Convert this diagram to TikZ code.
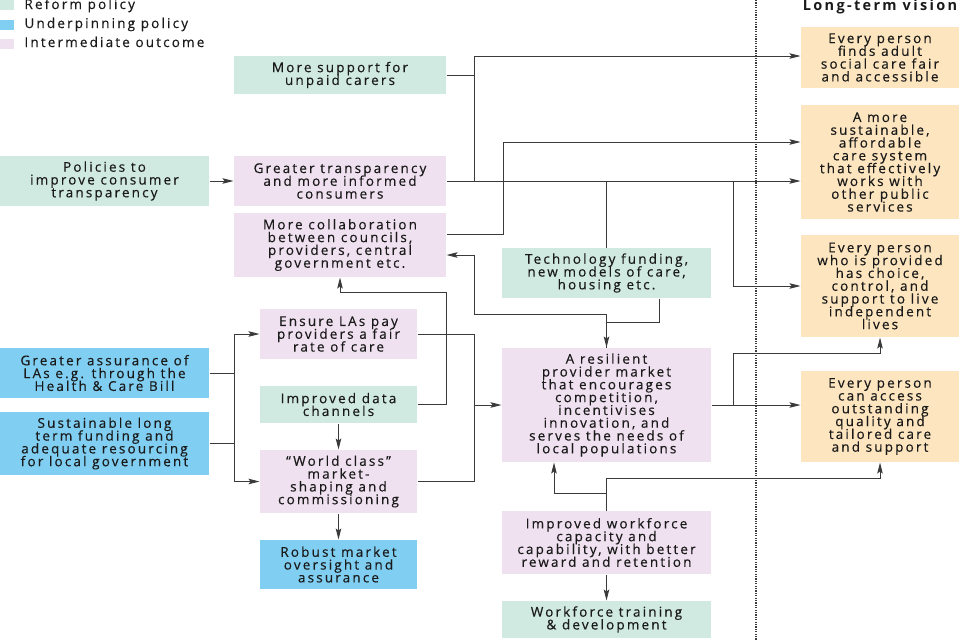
\documentclass[tikz,border=0pt]{standalone}
\usepackage{fontspec}
\setmainfont{Open Sans}[LetterSpace=16]
\newfontfamily\boxfont{Open Sans}[LetterSpace=16, FakeBold=0.35]
\newcommand{\bxfont}{\boxfont\fontsize{13.5}{12.8}\selectfont\lineskiplimit=-20pt\relax}
\usetikzlibrary{arrows.meta}
\definecolor{creform}{HTML}{D0EAE2}
\definecolor{cunder}{HTML}{80CFF3}
\definecolor{cinter}{HTML}{F0E1F0}
\definecolor{cvision}{HTML}{FCE5BF}
\definecolor{cline}{HTML}{3A3A3A}
\definecolor{ctext}{HTML}{1A1A1A}
\tikzset{
  every picture/.style={line width=1pt},
  box/.style={fill=#1, align=center, inner sep=0pt, text=ctext, font=\bxfont},
  box/.default=creform,
  keybox/.style={fill=#1, minimum width=14pt, minimum height=10pt, inner sep=0pt},
  arrow/.style={-{Stealth[length=11pt, width=5.5pt, inset=2pt]}, draw=cline},
  link/.style={draw=cline},
  sepline/.style={draw=cline, line width=1.2pt, dash pattern=on 1.2pt off 1.2pt},
  title/.style={font=\bfseries\fontsize{14.5}{14}\selectfont, text=ctext, inner sep=0pt},
  key/.style={font=\bxfont, text=ctext, anchor=base west, inner sep=0pt},
}
\begin{document}
\begin{tikzpicture}[x=1pt, y=-1pt]
  \useasboundingbox (0,0) rectangle (960,640);

  % legend
  \node[keybox=creform] (kreform) at (7,5) {};
  \node[keybox=cunder] (kunder) at (7,25) {};
  \node[keybox=cinter] (kinter) at (7,44) {};
  \node[key] at (24,9) {Reform policy};
  \node[key] at (24,28) {Underpinning policy};
  \node[key] at (24,47) {Intermediate outcome};

  % left: policies and outcomes
  \node[box=creform, minimum width=212pt, minimum height=38pt] (carers) at (340,75) {More support for\\unpaid carers};
  \node[box=creform, minimum width=209pt, minimum height=50pt] (consumer) at (104.5,181) {Policies to\\improve consumer\\transparency};
  \node[box=cinter, minimum width=212pt, minimum height=50pt] (transp) at (340,181) {Greater transparency\\and more informed\\consumers};
  \node[box=cinter, minimum width=212pt, minimum height=64pt] (collab) at (340,245) {More collaboration\\between councils,\\providers, central\\government etc.};
  \node[box=cinter, minimum width=157pt, minimum height=50pt] (rate) at (338.5,334) {Ensure LAs pay\\providers a fair\\rate of care};
  \node[box=creform, minimum width=157pt, minimum height=37pt] (data) at (338.5,404.5) {Improved data\\channels};
  \node[box=cinter, minimum width=157pt, minimum height=63pt] (shaping) at (338.5,481.5) {“World class”\\market-\\shaping and\\commissioning};
  \node[box=cunder, minimum width=157pt, minimum height=49pt] (oversight) at (338.5,564.5) {Robust market\\oversight and\\assurance};
  \node[box=cunder, minimum width=209pt, minimum height=50pt] (assure) at (104.5,373) {Greater assurance of\\LAs e.g. through the\\Health \& Care Bill};
  \node[box=cunder, minimum width=209pt, minimum height=63pt] (funding) at (104.5,443.5) {Sustainable long\\term funding and\\adequate resourcing\\for local government};

  % middle column
  \node[box=creform, minimum width=209pt, minimum height=50pt] (tech) at (606.5,273) {Technology funding,\\new models of care,\\housing etc.};
  \node[box=cinter, minimum width=209pt, minimum height=114pt] (market) at (606.5,405) {A resilient\\provider market\\that encourages\\competition,\\incentivises\\innovation, and\\serves the needs of\\local populations};
  \node[box=cinter, minimum width=209pt, minimum height=63pt] (workforce) at (606.5,542.5) {Improved workforce\\capacity and\\capability, with better\\reward and retention};
  \node[box=creform, minimum width=209pt, minimum height=37pt] (training) at (606.5,619.5) {Workforce training\\\& development};

  % long-term vision
  \draw[sepline] (756,0) -- (756,640);
  \node[title, anchor=base] (vtitle) at (880,10) {Long-term vision};
  \node[box=cvision, minimum width=158pt, minimum height=61pt] (fair) at (880,57.5) {Every person\\finds adult\\social care fair\\and accessible};
  \node[box=cvision, minimum width=158pt, minimum height=114pt] (sustain) at (880,162) {A more\\sustainable,\\affordable\\care system\\that effectively\\works with\\other public\\services};
  \node[box=cvision, minimum width=158pt, minimum height=102pt] (choice) at (880,286) {Every person\\who is provided\\has choice,\\control, and\\support to live\\independent\\lives};
  \node[box=cvision, minimum width=158pt, minimum height=91pt] (quality) at (880,416.5) {Every person\\can access\\outstanding\\quality and\\tailored care\\and support};

  % junctions
  \coordinate (jc) at (474,181);
  \coordinate (jv) at (733,181);
  \coordinate (jm) at (474,405);
  \coordinate (jl) at (234,408);
  \coordinate (jq) at (733,405);

  % top connectors
  \draw[arrow] (consumer) -- (transp);
  \draw[link] (carers.east) -- (carers.east -| jc);
  \draw[arrow] (jc) |- ([yshift=1.5pt]fair.west);
  \draw[arrow] (transp.east) -- (transp.east -| sustain.west);
  \draw[arrow] ([yshift=11pt]collab.east) -| (503,142) -- ([yshift=20pt]sustain.west);
  \draw[link] (tech.north) -- (tech.north |- transp.east);
  \draw[arrow] (jv) |- (choice.west);

  % middle connectors
  \draw[arrow] ([xshift=52.5pt]tech.south) |- ([yshift=25pt]market.north) -- (market.north);
  \draw[arrow] (market.north) -- ++(0,-33) -| (474,255) -- ([yshift=-10pt]collab.east);
  \draw[arrow] (data.east) -| (446,292) -| (collab.south);
  \draw[arrow] (data) -- (shaping);
  \draw[arrow] (shaping) -- (oversight);
  \draw[link] (rate.east) -| (jm);
  \draw[link] (shaping.east) -| (jm);
  \draw[arrow] (jm) -- (market.west);

  % underpinning
  \draw[link] (assure.east) -- (assure.east -| jl);
  \draw[link] (funding.east) -- (funding.east -| jl);
  \draw[arrow] (jl) |- (rate.west);
  \draw[arrow] (jl) |- (shaping.west);

  % towards the vision
  \draw[arrow] (market.east) -- (market.east -| quality.west);
  \draw[arrow] (jq) |- ([yshift=-16pt]choice.south) -- (choice.south);
  \draw[arrow] (workforce.north) -- ++(0,-17) -| ([xshift=-52.5pt]market.south);
  \draw[arrow] (workforce.north) -- ++(0,-32) -| (quality.south);
  \draw[arrow] (workforce) -- (training);
\end{tikzpicture}
\end{document}
